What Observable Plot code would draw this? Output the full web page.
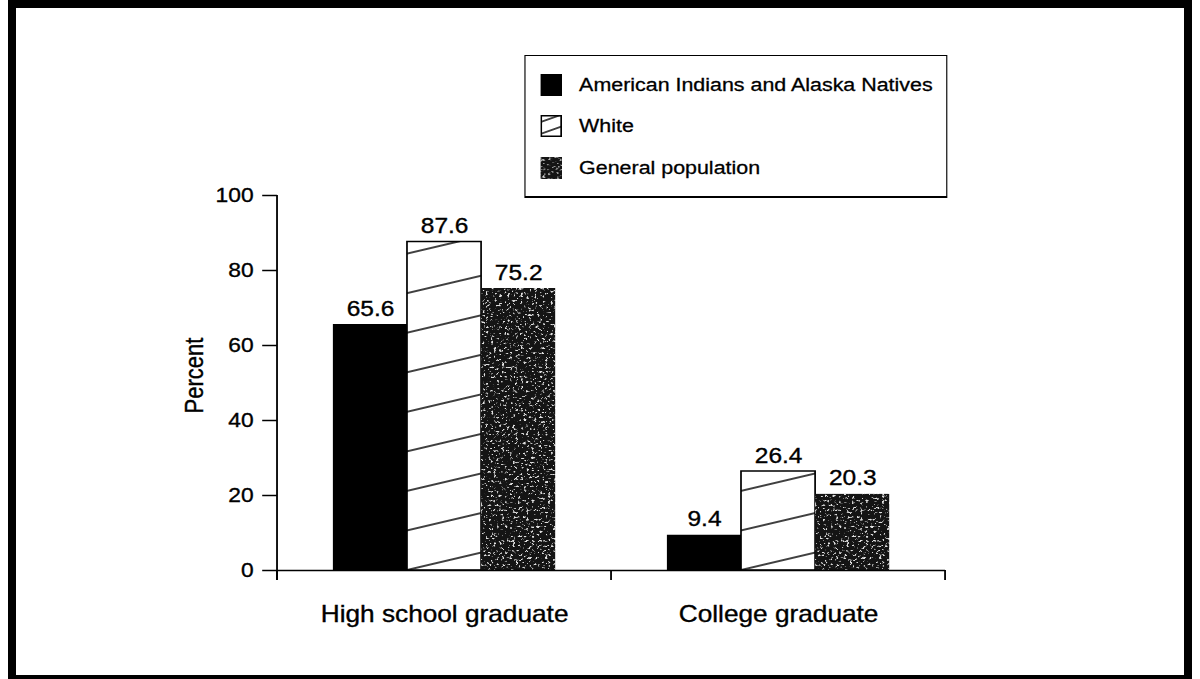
<!DOCTYPE html>
<html>
<head>
<meta charset="utf-8">
<script src="https://cdn.jsdelivr.net/npm/d3@7"></script>
<script src="https://cdn.jsdelivr.net/npm/@observablehq/plot@0.6"></script>
<style>
  html, body { margin: 0; padding: 0; background: #fff; width: 1200px; height: 679px; overflow: hidden; }
  #frame { position: absolute; left: 8px; top: 0; width: 1184px; height: 679px; box-sizing: border-box;
           border-style: solid; border-color: #000; border-width: 8px 8px 4px 8px; pointer-events: none; z-index: 5; }
  #stage { position: absolute; left: 0; top: 0; width: 1053px; height: 679px; transform: scaleX(1.14); transform-origin: 0 0; }
  #chart { position: absolute; left: 0; top: 0; }
  #chart text { stroke: #000; stroke-width: 0.35px; }
  #legend { position: absolute; left: 460px; top: 55px; width: 371px; height: 143px; box-sizing: border-box;
            border: 1.5px solid #000; border-bottom-width: 2px; background: #fff;
            font-family: "Liberation Sans", Arial, Helvetica, sans-serif; font-size: 18.8px; color: #000;
            -webkit-text-stroke: 0.3px #000; }
  .row { position: absolute; left: 13px; height: 22px; display: flex; align-items: center; white-space: nowrap; }
  .row svg { width: 19px; height: 22px; margin-right: 15px; flex: none; display: block; }
</style>
</head>
<body>
<div id="stage"><div id="chart"></div><div id="legend"></div></div>
<div id="frame"></div>
<svg width="0" height="0" style="position:absolute">
  <defs>
    <filter id="noiseF" x="0" y="0" width="100%" height="100%" color-interpolation-filters="sRGB">
      <feTurbulence type="fractalNoise" baseFrequency="0.42" numOctaves="3" seed="11"/>
      <feColorMatrix type="matrix" values="0 0 0 0 0.88  0 0 0 0 0.88  0 0 0 0 0.88  7 0 0 0 -4.15"/>
    </filter>
    <pattern id="speckle" patternUnits="userSpaceOnUse" width="1100" height="700">
      <rect width="1100" height="700" fill="#141414"/>
      <rect width="1100" height="700" filter="url(#noiseF)"/>
    </pattern>
    <pattern id="hatchL" patternUnits="userSpaceOnUse" width="40" height="11" patternTransform="translate(0,19) rotate(-22)">
      <rect width="40" height="11" fill="#fff"/>
      <line x1="0" y1="0" x2="40" y2="0" stroke="#000" stroke-width="1.3"/>
      <line x1="0" y1="11" x2="40" y2="11" stroke="#000" stroke-width="1.3"/>
    </pattern>
  </defs>
</svg>
<script>
// ---- data ----
const groups = ["High school graduate", "College graduate"];
const series = ["American Indians and Alaska Natives", "White", "General population"];
const aianValues = [65.6, 9.4];
const whiteValues = [87.6, 26.4];
const generalValues = [75.2, 20.3];
const yTicks = [0, 20, 40, 60, 80, 100];
const yLabel = "Percent";

// ---- build table ----
const valuesBySeries = [aianValues, whiteValues, generalValues];
const rows = series.flatMap((s, i) => groups.map((g, j) => ({group: g, series: s, value: valuesBySeries[i][j]})));
const fills = ["#000", "url(#hatch)", "url(#speckle)"];

const W = 1053, H = 679;
const FONT = '"Liberation Sans", Arial, Helvetica, sans-serif';

const plot = Plot.plot({
  width: W, height: H,
  marginLeft: 243, marginRight: 224, marginTop: 195, marginBottom: 109,
  style: {fontFamily: FONT, fontSize: "20px", color: "#000", background: "transparent", overflow: "visible"},
  fx: {domain: groups, padding: 0, label: null},
  x: {domain: series, paddingInner: 0, paddingOuter: 0.745, axis: null},
  y: {domain: [0, 100], label: null},
  marks: [
    ...series.map((s, i) => Plot.barY(rows.filter(d => d.series === s), {
      fx: "group", x: "series", y: "value",
      fill: fills[i], stroke: i === 1 ? "#000" : "none", strokeWidth: 1.5
    })),
    Plot.text(rows, {fx: "group", x: "series", y: "value", text: d => d.value.toFixed(1),
      lineAnchor: "bottom", dy: -9, fontSize: 21.5, fill: "#000"}),
    Plot.ruleY([0], {stroke: "#000", strokeWidth: 1.6}),
    Plot.axisY({ticks: yTicks, tickSize: 13, tickPadding: 8, fontSize: 20, label: null, strokeWidth: 1.5}),
    Plot.axisFx({anchor: "bottom", tickSize: 0, tickPadding: 35, fontSize: 23, label: null})
  ]
});
document.getElementById("chart").appendChild(plot);

// ---- pattern defs inside the plot svg ----
const svg = d3.select(plot);
svg.insert("defs", ":first-child").html(`
  <pattern id="hatch" patternUnits="userSpaceOnUse" width="60" height="38.2">
    <rect width="60" height="38.2" fill="#fff"/>
    <line x1="0" y1="0" x2="60" y2="0" stroke="#000" stroke-width="1.5"/>
    <line x1="0" y1="38.2" x2="60" y2="38.2" stroke="#000" stroke-width="1.5"/>
  </pattern>`);

// anchor hatch at the bottom-left corner of the first White bar
const barGroups = plot.querySelectorAll('g[aria-label="bar"]');
if (barGroups.length > 1) {
  const r = barGroups[1].querySelector("rect");
  const m = r.getCTM();
  const bx = +r.getAttribute("x"), by = +r.getAttribute("y") + +r.getAttribute("height");
  const px = m.a * bx + m.c * by + m.e, py = m.b * bx + m.d * by + m.f;
  plot.querySelector("#hatch").setAttribute("patternTransform", `translate(${px},${py}) rotate(-15)`);
}

// ---- axis lines drawn from the plot's own scales ----
const ys = plot.scale("y"), fxs = plot.scale("fx");
const y0 = ys.apply(0), y100 = ys.apply(100);
const edges = groups.map(g => fxs.apply(g)).concat([fxs.apply(groups[groups.length - 1]) + fxs.bandwidth]);
const g = svg.append("g").attr("stroke", "#000").attr("stroke-width", 1.6);
g.append("line").attr("x1", edges[0]).attr("x2", edges[0]).attr("y1", y100).attr("y2", y0 + 10);
edges.forEach(x => g.append("line").attr("x1", x).attr("x2", x).attr("y1", y0).attr("y2", y0 + 10));
svg.append("text")
  .attr("transform", `translate(${edges[0] - 72},${(y0 + y100) / 2 - 7}) rotate(-90)`)
  .attr("text-anchor", "middle").attr("dominant-baseline", "central")
  .attr("font-family", FONT).attr("font-size", 22).attr("fill", "#000")
  .text(yLabel);

// ---- legend ----
const legend = d3.select("#legend");
series.forEach((s, i) => {
  const row = legend.append("div").attr("class", "row").style("top", (17.5 + i * 41.5) + "px");
  const sw = row.append("svg").attr("viewBox", "0 0 19 22");
  if (i === 0) sw.append("rect").attr("width", 19).attr("height", 22).attr("fill", "#000");
  if (i === 1) sw.append("rect").attr("x", 0.75).attr("y", 0.75).attr("width", 17.5).attr("height", 20.5)
                 .attr("fill", "url(#hatchL)").attr("stroke", "#000").attr("stroke-width", 1.5);
  if (i === 2) sw.append("rect").attr("width", 19).attr("height", 22).attr("fill", "url(#speckle)");
  row.append("span").text(s);
});
</script>
</body>
</html>
